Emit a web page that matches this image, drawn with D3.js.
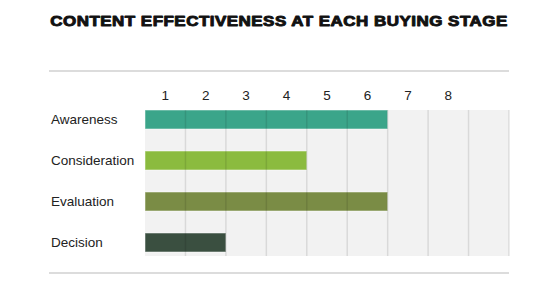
<!DOCTYPE html>
<html>
<head>
<meta charset="utf-8">
<script src="https://cdn.jsdelivr.net/npm/d3@7"></script>
<style>
  body { margin: 0; background: #fff; }
  text { font-family: "Liberation Sans", Arial, sans-serif; fill: #222; }
</style>
</head>
<body>
<div id="chart"></div>
<script>
// Data
var stages = ["Awareness", "Consideration", "Evaluation", "Decision"];
var scores = [6, 4, 6, 2];
var colors = ["#3ba58a", "#8bbb3f", "#7a8c45", "#3a4f40"];
var tickLabels = [1, 2, 3, 4, 5, 6, 7, 8];
var maxScore = 9;

var width = 558, height = 300;
var plot = {left: 145, right: 509, top: 110, bottom: 256};

var svg = d3.select("#chart").append("svg")
    .attr("width", width)
    .attr("height", height);

// Scales
var x = d3.scaleLinear().domain([0, maxScore]).range([plot.left, plot.right]);
var y = d3.scaleBand().domain(stages).range([plot.top, plot.top + 41 * stages.length]);
var barH = 19;

// Title - heavy, wide; stretched horizontally to the reference span
var titleText = "CONTENT EFFECTIVENESS AT EACH BUYING STAGE";
var titleG = svg.append("g");
var title = titleG.append("text")
    .attr("x", 0)
    .attr("y", 0)
    .attr("text-anchor", "middle")
    .style("font-size", "14px")
    .style("font-weight", "bold")
    .style("letter-spacing", "0.4px")
    .style("fill", "#111")
    .style("stroke", "#111")
    .style("stroke-width", 0.9)
    .style("stroke-linejoin", "round")
    .text(titleText);
var natural = title.node().getComputedTextLength();
titleG.attr("transform", "translate(" + (width / 2) + ",26) scale(" + (458 / natural) + ",1)");

// Horizontal rules
[71, 273].forEach(function(yy) {
    svg.append("line")
        .attr("x1", 49).attr("x2", plot.right)
        .attr("y1", yy).attr("y2", yy)
        .style("stroke", "#d0d0d0")
        .style("stroke-width", 1.5);
});

// Plot background
svg.append("rect")
    .attr("x", plot.left)
    .attr("y", plot.top)
    .attr("width", plot.right - plot.left)
    .attr("height", plot.bottom - plot.top)
    .style("fill", "#f2f2f2");

// Bars
svg.selectAll(".bar")
    .data(stages)
    .enter().append("rect")
    .attr("class", "bar")
    .attr("x", x(0))
    .attr("y", function(d) { return y(d); })
    .attr("width", function(d, i) { return x(scores[i]) - x(0); })
    .attr("height", barH)
    .style("fill", function(d, i) { return colors[i]; })
    .style("stroke", "#fff")
    .style("stroke-opacity", 0.5)
    .style("stroke-width", 1);

// Grid lines (drawn over bars)
svg.selectAll(".grid")
    .data(d3.range(1, maxScore + 1))
    .enter().append("line")
    .attr("class", "grid")
    .attr("x1", function(d) { return x(d); })
    .attr("x2", function(d) { return x(d); })
    .attr("y1", plot.top)
    .attr("y2", plot.bottom)
    .style("stroke", "#000")
    .style("stroke-opacity", 0.1)
    .style("stroke-width", 1.5);

// Tick labels (centred in columns)
svg.selectAll(".tick-label")
    .data(tickLabels)
    .enter().append("text")
    .attr("class", "tick-label")
    .attr("x", function(d) { return x(d - 0.5); })
    .attr("y", 95)
    .attr("dy", "0.35em")
    .attr("text-anchor", "middle")
    .style("font-size", "13.5px")
    .text(function(d) { return d; });

// Category labels
svg.selectAll(".cat-label")
    .data(stages)
    .enter().append("text")
    .attr("class", "cat-label")
    .attr("x", 51)
    .attr("y", function(d) { return y(d) + barH / 2; })
    .attr("dy", "0.35em")
    .style("font-size", "13.5px")
    .text(function(d) { return d; });
</script>
</body>
</html>
